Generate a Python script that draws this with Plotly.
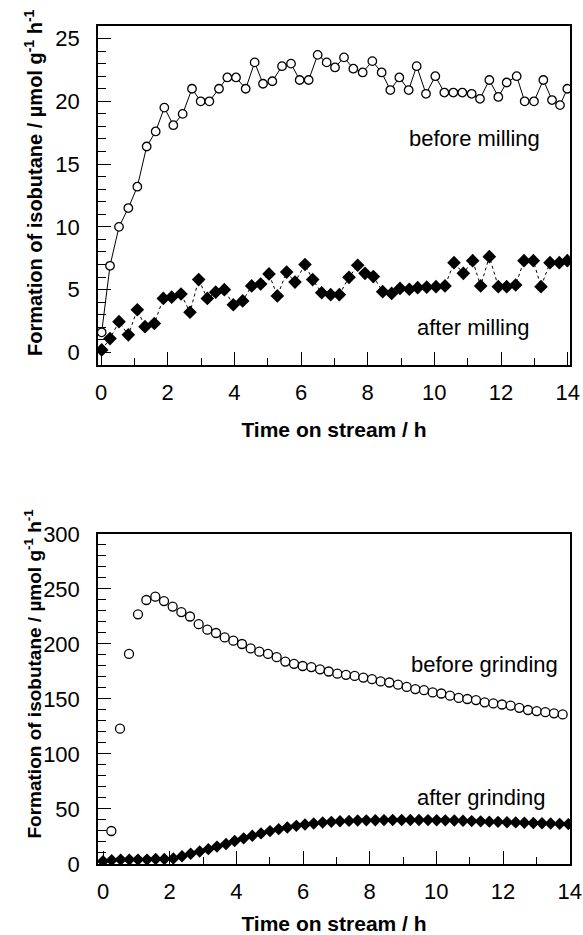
import plotly.graph_objects as go

# ---------------- Top panel: milling ----------------
t_before_milling = [0.02, 0.27, 0.54, 0.82, 1.09, 1.37, 1.64, 1.90, 2.17, 2.45,
                    2.73, 2.99, 3.25, 3.54, 3.79, 4.05, 4.34, 4.61, 4.86, 5.14,
                    5.43, 5.70, 5.96, 6.23, 6.50, 6.77, 7.02, 7.29, 7.57, 7.85,
                    8.14, 8.42, 8.68, 8.95, 9.23, 9.47, 9.75, 10.03, 10.30, 10.57,
                    10.84, 11.12, 11.37, 11.65, 11.92, 12.17, 12.47, 12.71, 12.99, 13.27,
                    13.53, 13.77, 13.99]
v_before_milling = [1.6, 6.9, 10.0, 11.5, 13.2, 16.4, 17.6, 19.5, 18.1, 19.0,
                    21.0, 20.0, 20.0, 21.0, 21.9, 21.9, 21.0, 23.1, 21.4, 21.6,
                    22.8, 23.0, 21.7, 21.7, 23.7, 23.1, 22.7, 23.5, 22.6, 22.3,
                    23.2, 22.3, 20.9, 21.9, 20.9, 22.8, 20.6, 22.0, 20.7, 20.7,
                    20.7, 20.6, 20.2, 21.7, 20.35, 21.5, 22.0, 20.0, 20.0, 21.7,
                    20.1, 19.7, 21.0]

t_after_milling = [0.02, 0.27, 0.54, 0.82, 1.09, 1.32, 1.60, 1.87, 2.12, 2.40,
                   2.67, 2.93, 3.19, 3.44, 3.70, 3.97, 4.25, 4.52, 4.79, 5.04,
                   5.29, 5.57, 5.82, 6.12, 6.35, 6.62, 6.89, 7.15, 7.44, 7.70,
                   7.92, 8.17, 8.45, 8.72, 8.97, 9.25, 9.50, 9.77, 10.05, 10.32,
                   10.59, 10.87, 11.15, 11.39, 11.65, 11.92, 12.17, 12.44, 12.69, 12.97,
                   13.20, 13.47, 13.75, 13.99]
v_after_milling = [0.2, 1.1, 2.45, 1.4, 3.4, 2.05, 2.3, 4.3, 4.4, 4.65,
                   3.2, 5.8, 4.3, 4.8, 5.0, 3.8, 4.1, 5.3, 5.45, 6.25,
                   4.5, 6.4, 5.6, 7.0, 5.8, 4.75, 4.6, 4.6, 5.98, 6.94,
                   6.3, 6.04, 4.84, 4.7, 5.1, 5.03, 5.16, 5.2, 5.24, 5.3,
                   7.15, 6.3, 7.31, 5.3, 7.63, 5.24, 5.24, 5.37, 7.31, 7.31,
                   5.24, 7.15, 7.15, 7.31]

# ---------------- Bottom panel: grinding ----------------
t_before_grinding = [0.25, 0.51, 0.78, 1.05, 1.30, 1.57, 1.83, 2.09, 2.35, 2.61,
                     2.87, 3.13, 3.39, 3.65, 3.91, 4.17, 4.43, 4.69, 4.95, 5.21,
                     5.47, 5.73, 5.99, 6.25, 6.51, 6.77, 7.03, 7.29, 7.55, 7.81,
                     8.07, 8.33, 8.59, 8.85, 9.11, 9.37, 9.63, 9.89, 10.15, 10.41,
                     10.67, 10.93, 11.19, 11.45, 11.71, 11.97, 12.23, 12.49, 12.75, 13.01,
                     13.27, 13.53, 13.79]
v_before_grinding = [30, 123, 191, 227, 240, 243, 239, 234, 229, 225,
                     218, 213, 210, 206, 203, 200, 196, 193, 191, 188,
                     184, 182, 180, 179, 177, 175, 173, 172, 171, 169.5,
                     168, 166, 165, 163, 161, 159, 158, 156, 155, 153,
                     151, 150, 149, 147, 146, 145, 144, 142, 140, 139,
                     138, 137, 136]

t_after_grinding = [0.00, 0.26, 0.53, 0.79, 1.05, 1.32, 1.58, 1.84, 2.11, 2.37,
                    2.63, 2.90, 3.16, 3.42, 3.69, 3.95, 4.22, 4.48, 4.74, 5.01,
                    5.27, 5.53, 5.80, 6.06, 6.32, 6.59, 6.85, 7.11, 7.38, 7.64,
                    7.90, 8.17, 8.43, 8.69, 8.96, 9.22, 9.48, 9.75, 10.01, 10.27,
                    10.54, 10.80, 11.06, 11.33, 11.59, 11.85, 12.12, 12.38, 12.64, 12.91,
                    13.17, 13.43, 13.70, 13.96]
v_after_grinding = [2.5, 3.5, 4, 4, 4, 4, 4.5, 4.5, 5, 7,
                    9.3, 11.4, 13.5, 15.8, 18.2, 20.9, 23.3, 25.7, 27.8, 29.9,
                    31.7, 33.2, 34.7, 35.9, 36.8, 37.7, 38.3, 38.9, 39.2, 39.5,
                    39.7, 39.8, 39.9, 40.0, 40.0, 40.0, 40.0, 39.9, 39.8, 39.7,
                    39.5, 39.3, 39.0, 38.8, 38.5, 38.3, 38.0, 37.8, 37.5, 37.3,
                    37.0, 36.8, 36.5, 36.3]

x_tick_vals = [0, 2, 4, 6, 8, 10, 12, 14]
y_top_ticks = [0, 5, 10, 15, 20, 25]
y_bot_ticks = [0, 50, 100, 150, 200, 250, 300]

FONT = "Liberation Sans, Arial, Helvetica, sans-serif"
y_title = "<b>Formation of isobutane / µmol g<sup>-1</sup> h<sup>-1</sup></b>"
x_title = "<b>Time on stream / h</b>"

fig = go.Figure()

open_circle = dict(symbol="circle", size=8.5, color="white", line=dict(color="black", width=1.3))
diamond = dict(symbol="diamond", size=10.5, color="black", line=dict(color="black", width=0))

fig.add_trace(go.Scatter(x=t_before_milling, y=v_before_milling, mode="lines+markers",
                         line=dict(color="black", width=1), marker=open_circle,
                         xaxis="x", yaxis="y", name="before milling"))
fig.add_trace(go.Scatter(x=t_after_milling, y=v_after_milling, mode="lines+markers",
                         line=dict(color="black", width=1, dash="dot"), marker=diamond,
                         xaxis="x", yaxis="y", name="after milling"))
fig.add_trace(go.Scatter(x=t_before_grinding, y=v_before_grinding, mode="markers",
                         marker=dict(symbol="circle", size=9, color="white",
                                     line=dict(color="black", width=1.3)),
                         xaxis="x2", yaxis="y2", name="before grinding"))
fig.add_trace(go.Scatter(x=t_after_grinding, y=v_after_grinding, mode="lines+markers",
                         line=dict(color="black", width=1, dash="dot"),
                         marker=dict(symbol="diamond", size=9.5, color="black"),
                         xaxis="x2", yaxis="y2", name="after grinding"))

axis_common = dict(showline=True, linecolor="black", linewidth=1.5, mirror=True,
                   ticks="inside", tickcolor="black", tickwidth=1.2, ticklen=13,
                   showgrid=False, zeroline=False, automargin=False,
                   tickfont=dict(family=FONT, size=22, color="black"))

fig.update_layout(
    template="simple_white",
    width=583, height=935,
    margin=dict(l=98, r=13, t=26, b=71),
    paper_bgcolor="white", plot_bgcolor="white",
    showlegend=False,
    font=dict(family=FONT, color="black"),
    xaxis=dict(**axis_common, domain=[0, 1], anchor="y", range=[-0.09, 14.07],
               tickvals=x_tick_vals, ticklabelstandoff=7,
               minor=dict(dtick=1, ticks="inside", ticklen=7, tickcolor="black", tickwidth=1.2),
               title=dict(text=x_title, font=dict(family=FONT, size=21, color="black"), standoff=18)),
    yaxis=dict(**axis_common, domain=[0.5955, 1.0], anchor="x", range=[-1, 26],
               tickvals=y_top_ticks, ticklabelstandoff=12,
               minor=dict(dtick=1, ticks="inside", ticklen=8, tickcolor="black", tickwidth=1.2)),
    xaxis2=dict(**axis_common, domain=[0, 1], anchor="y2", range=[-0.15, 14.01],
                tickvals=x_tick_vals, ticklabelstandoff=7,
                minor=dict(dtick=1, ticks="inside", ticklen=7, tickcolor="black", tickwidth=1.2),
                title=dict(text=x_title, font=dict(family=FONT, size=21, color="black"), standoff=18)),
    yaxis2=dict(**axis_common, domain=[0, 0.3938], anchor="x2", range=[0, 300],
                tickvals=y_bot_ticks, ticklabelstandoff=12,
                minor=dict(dtick=10, ticks="inside", ticklen=8, tickcolor="black", tickwidth=1.2)),
    annotations=[
        dict(x=-0.1377, y=0.8126, xref="paper", yref="paper", text=y_title, textangle=-90,
             showarrow=False, xanchor="center", yanchor="middle",
             font=dict(family=FONT, size=20, color="black")),
        dict(x=-0.1377, y=0.2273, xref="paper", yref="paper", text=y_title, textangle=-90,
             showarrow=False, xanchor="center", yanchor="middle",
             font=dict(family=FONT, size=19, color="black")),
        dict(x=11.2, y=17.0, xref="x", yref="y", text="before milling", showarrow=False,
             font=dict(family=FONT, size=22, color="black")),
        dict(x=11.16, y=2.0, xref="x", yref="y", text="after milling", showarrow=False,
             font=dict(family=FONT, size=22, color="black")),
        dict(x=11.43, y=181, xref="x2", yref="y2", text="before grinding", showarrow=False,
             font=dict(family=FONT, size=22, color="black")),
        dict(x=11.33, y=60, xref="x2", yref="y2", text="after grinding", showarrow=False,
             font=dict(family=FONT, size=22, color="black")),
    ],
)

# remove the browser's default 8px body margin so the figure fills the window exactly
fig.write_html("out.html",
               config={"displayModeBar": False},
               post_script="document.body.style.margin='0';document.body.style.overflow='hidden';")
